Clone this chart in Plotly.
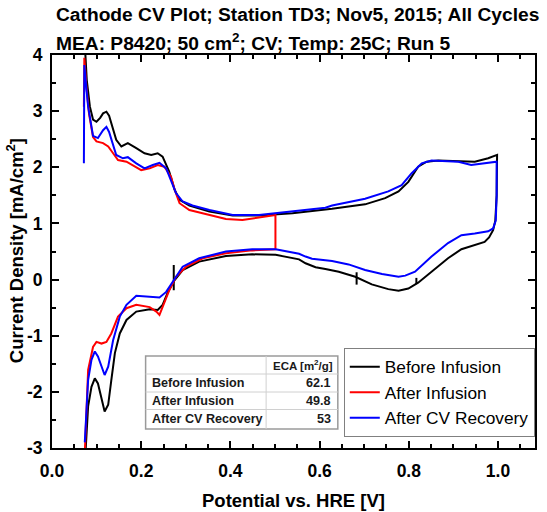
import plotly.graph_objects as go

# ---- Cyclic voltammograms (potential V vs HRE, current density mA/cm^2) ----
# Before Infusion: anodic sweep (low -> high), then cathodic sweep (high -> low)
before_anodic_v = [0.0735, 0.078, 0.085, 0.092, 0.0997, 0.108, 0.1145, 0.122, 0.128, 0.133,
                   0.144, 0.1555, 0.170, 0.189, 0.2075, 0.2225, 0.237, 0.248, 0.263, 0.275,
                   0.286, 0.308, 0.353, 0.405, 0.464, 0.539, 0.613, 0.628, 0.702, 0.747,
                   0.777, 0.799, 0.821, 0.840, 0.866, 0.911, 0.948, 0.978, 0.998, 0.997,
                   0.994, 0.989, 0.980, 0.970]
before_anodic_i = [4.2, 3.55, 3.08, 2.85, 2.81, 2.88, 2.96, 2.99, 2.92, 2.79,
                   2.49, 2.37, 2.43, 2.34, 2.25, 2.22, 2.25, 2.19, 1.92, 1.60,
                   1.42, 1.32, 1.21, 1.14, 1.14, 1.18, 1.24, 1.26, 1.34, 1.45,
                   1.57, 1.74, 2.01, 2.10, 2.12, 2.11, 2.10, 2.16, 2.22, 1.5,
                   1.05, 0.88, 0.75, 0.67]
before_cathodic_v = [0.948, 0.918, 0.888, 0.851, 0.821, 0.799, 0.777, 0.754, 0.717, 0.680,
                     0.643, 0.613, 0.591, 0.5685, 0.554, 0.5015, 0.449, 0.390, 0.330, 0.293,
                     0.275, 0.260, 0.248, 0.237, 0.219, 0.189, 0.167, 0.152, 0.141, 0.133,
                     0.126, 0.118, 0.111, 0.103, 0.096, 0.0885, 0.081, 0.076, 0.0735]
before_cathodic_i = [0.62, 0.54, 0.38, 0.14, -0.056, -0.16, -0.20, -0.17, -0.085, 0.05,
                     0.14, 0.19, 0.22, 0.29, 0.36, 0.44, 0.45, 0.42, 0.32, 0.17,
                     -0.01, -0.22, -0.45, -0.54, -0.53, -0.57, -0.72, -0.96, -1.31, -1.79,
                     -2.23, -2.35, -2.09, -1.85, -1.76, -1.91, -2.26, -2.8, -3.3]
# short vertical glitches in the Before Infusion record
before_glitch_v = [0.273, 0.683, 0.817]
before_glitch_lo = [-0.19, -0.09, -0.08]
before_glitch_hi = [0.26, 0.13, 0.03]

# After Infusion: partial cycle up to 0.5 V, then back down
after_anodic_v = [0.0715, 0.0725, 0.077, 0.083, 0.092, 0.0997, 0.1145, 0.126, 0.137, 0.148,
                  0.167, 0.181, 0.200, 0.219, 0.237, 0.252, 0.267, 0.275, 0.286, 0.308,
                  0.353, 0.390, 0.427, 0.464, 0.501, 0.501]
after_anodic_i = [3.08, 3.95, 3.45, 2.95, 2.54, 2.46, 2.43, 2.37, 2.25, 2.13,
                  2.10, 2.04, 1.95, 1.98, 2.04, 2.01, 1.83, 1.60, 1.36, 1.24,
                  1.15, 1.08, 1.06, 1.11, 1.15, 0.54]
after_cathodic_v = [0.449, 0.390, 0.338, 0.301, 0.278, 0.263, 0.248, 0.241, 0.234, 0.219,
                    0.189, 0.167, 0.148, 0.133, 0.122, 0.111, 0.0997, 0.092, 0.081, 0.077,
                    0.0725]
after_cathodic_i = [0.52, 0.47, 0.38, 0.23, 0.05, -0.19, -0.48, -0.63, -0.57, -0.49,
                    -0.45, -0.51, -0.66, -0.96, -1.11, -1.14, -1.11, -1.20, -1.61, -2.3,
                    -3.3]

# After CV Recovery
recovery_anodic_v = [0.0715, 0.0725, 0.076, 0.081, 0.092, 0.103, 0.1145, 0.122, 0.128, 0.133,
                     0.144, 0.159, 0.170, 0.189, 0.2075, 0.226, 0.241, 0.256, 0.267, 0.278,
                     0.293, 0.315, 0.353, 0.405, 0.464, 0.539, 0.613, 0.628, 0.702, 0.754,
                     0.784, 0.806, 0.829, 0.851, 0.911, 0.940, 0.970, 0.997, 0.997, 0.995,
                     0.989, 0.978]
recovery_anodic_i = [2.07, 3.82, 3.5, 3.08, 2.56, 2.52, 2.66, 2.72, 2.63, 2.49,
                     2.22, 2.16, 2.18, 2.07, 1.98, 2.04, 2.08, 1.98, 1.77, 1.54,
                     1.39, 1.32, 1.24, 1.15, 1.15, 1.21, 1.28, 1.32, 1.44, 1.57,
                     1.68, 1.89, 2.07, 2.12, 2.10, 2.04, 2.07, 2.10, 1.5, 1.05,
                     0.91, 0.86]
recovery_cathodic_v = [0.948, 0.918, 0.888, 0.851, 0.814, 0.792, 0.777, 0.740, 0.702, 0.665,
                       0.628, 0.598, 0.583, 0.5685, 0.554, 0.5015, 0.449, 0.390, 0.330, 0.293,
                       0.275, 0.256, 0.241, 0.219, 0.189, 0.167, 0.152, 0.137, 0.126, 0.118,
                       0.111, 0.103, 0.096, 0.0885, 0.081, 0.077, 0.0735]
recovery_cathodic_i = [0.82, 0.79, 0.65, 0.41, 0.14, 0.07, 0.05, 0.10, 0.17, 0.27,
                       0.33, 0.35, 0.37, 0.41, 0.46, 0.54, 0.54, 0.50, 0.38, 0.23,
                       0.02, -0.22, -0.32, -0.31, -0.29, -0.45, -0.66, -1.08, -1.55, -1.70,
                       -1.55, -1.37, -1.28, -1.43, -1.79, -2.3, -2.9]

series_names = ["Before Infusion", "After Infusion", "After CV Recovery"]
series_colors = ["#000000", "#ff0000", "#0000ff"]

# ECA summary table
eca_header = "ECA [m<sup>2</sup>/g]"
eca_rows = ["Before Infusion", "After Infusion", "After CV Recovery"]
eca_values = ["62.1", "49.8", "53"]

x_tick_vals = [0.0, 0.2, 0.4, 0.6, 0.8, 1.0]
y_tick_vals = [-3, -2, -1, 0, 1, 2, 3, 4]

FONT = "Liberation Sans, Arial, sans-serif"

# plot-area geometry in pixels (used for paper-coordinate placement)
PL, PR, PT, PB = 52, 537, 55, 448
W, H = 547, 512


def px_x(px):
    return (px - PL) / (PR - PL)


def px_y(py):
    return (PB - py) / (PB - PT)


def loop(v1, i1, v2, i2, gv=None, glo=None, ghi=None):
    xs = list(v1) + list(v2)
    ys = list(i1) + list(i2)
    if gv:
        for v, lo, hi in zip(gv, glo, ghi):
            xs += [None, v, v]
            ys += [None, lo, hi]
    return xs, ys


curves = [
    loop(before_anodic_v, before_anodic_i, before_cathodic_v, before_cathodic_i,
         before_glitch_v, before_glitch_lo, before_glitch_hi),
    loop(after_anodic_v, after_anodic_i, after_cathodic_v, after_cathodic_i),
    loop(recovery_anodic_v, recovery_anodic_i, recovery_cathodic_v, recovery_cathodic_i),
]

fig = go.Figure()
for (xs, ys), name, color in zip(curves, series_names, series_colors):
    fig.add_trace(go.Scatter(x=xs, y=ys, mode="lines", name=name,
                             line=dict(color=color, width=2), connectgaps=False))

tickfont = dict(family=FONT, size=17.5, color="black", weight="bold")
axis_common = dict(showline=True, linewidth=2, linecolor="black", mirror="ticks",
                   ticks="inside", ticklen=7, tickwidth=1.5, tickcolor="black",
                   showgrid=False, zeroline=False, tickfont=tickfont)

fig.update_xaxes(range=[0, 1.083], tickmode="array", tickvals=x_tick_vals,
                 ticktext=[f"{v:.1f}" for v in x_tick_vals],
                 minor=dict(ticks="inside", tick0=0, dtick=0.05, ticklen=4,
                            tickwidth=1.5, tickcolor="black", showgrid=False),
                 ticklabelstandoff=6, **axis_common)
fig.update_yaxes(range=[-3, 4], tickmode="array", tickvals=y_tick_vals,
                 ticktext=[str(v) for v in y_tick_vals],
                 minor=dict(ticks="inside", tick0=0, dtick=0.5, ticklen=4,
                            tickwidth=1.5, tickcolor="black", showgrid=False),
                 ticklabelstandoff=4, **axis_common)

title_font = dict(family=FONT, size=19.2, color="black", weight="bold")
annotations = [
    dict(text="Cathode CV Plot; Station TD3; Nov5, 2015; All Cycles",
         x=px_x(54), y=px_y(14.5), xanchor="left", yanchor="middle", font=title_font),
    dict(text="MEA: P8420; 50 cm<sup>2</sup>; CV; Temp: 25C; Run 5",
         x=px_x(54), y=px_y(41.5), xanchor="left", yanchor="middle", font=title_font),
    dict(text="Potential vs. HRE [V]", x=px_x(294), y=px_y(500),
         xanchor="center", yanchor="middle",
         font=dict(family=FONT, size=18.5, color="black", weight="bold")),
    dict(text="Current Density [mA/cm<sup>2</sup>]", x=px_x(15), y=px_y(251),
         xanchor="center", yanchor="middle", textangle=-90,
         font=dict(family=FONT, size=18.5, color="black", weight="bold")),
]

# ECA table: grid and cells
t_left, t_right, t_split = 146, 339, 267
t_rows = [356, 374, 392, 409.5, 429]
shapes = [dict(type="rect", xref="paper", yref="paper",
               x0=px_x(t_left), x1=px_x(t_right), y0=px_y(t_rows[-1]), y1=px_y(t_rows[0]),
               line=dict(color="#9a9a9a", width=1.5), fillcolor="white", layer="above")]
for r in t_rows[1:-1]:
    shapes.append(dict(type="line", xref="paper", yref="paper",
                       x0=px_x(t_left), x1=px_x(t_right), y0=px_y(r), y1=px_y(r),
                       line=dict(color="#d0d0d0", width=1)))
shapes.append(dict(type="line", xref="paper", yref="paper",
                   x0=px_x(t_split), x1=px_x(t_split), y0=px_y(t_rows[-1]), y1=px_y(t_rows[0]),
                   line=dict(color="#d0d0d0", width=1)))

cell_font = dict(family=FONT, size=12.6, color="#1a1a1a", weight="bold")
annotations.append(dict(text=eca_header, x=px_x(336), y=px_y((t_rows[0] + t_rows[1]) / 2),
                        xanchor="right", yanchor="middle",
                        font=dict(family=FONT, size=11.5, color="#1a1a1a", weight="bold")))
for k, (label, val) in enumerate(zip(eca_rows, eca_values)):
    yc = px_y((t_rows[k + 1] + t_rows[k + 2]) / 2)
    annotations.append(dict(text=label, x=px_x(150), y=yc, xanchor="left",
                            yanchor="middle", font=cell_font))
    annotations.append(dict(text=val, x=px_x(334), y=yc, xanchor="right",
                            yanchor="middle", font=cell_font))

for a in annotations:
    a.update(xref="paper", yref="paper", showarrow=False)

fig.update_layout(
    width=W, height=H,
    margin=dict(l=PL, r=W - PR, t=PT, b=H - PB, pad=0),
    paper_bgcolor="white", plot_bgcolor="white",
    font=dict(family=FONT, color="black"),
    showlegend=True,
    legend=dict(x=px_x(345), y=px_y(348), xanchor="left", yanchor="top",
                bgcolor="white", bordercolor="#808080", borderwidth=1,
                font=dict(family=FONT, size=17.3, color="black")),
    annotations=annotations,
    shapes=shapes,
)

fig.write_html("out.html")
